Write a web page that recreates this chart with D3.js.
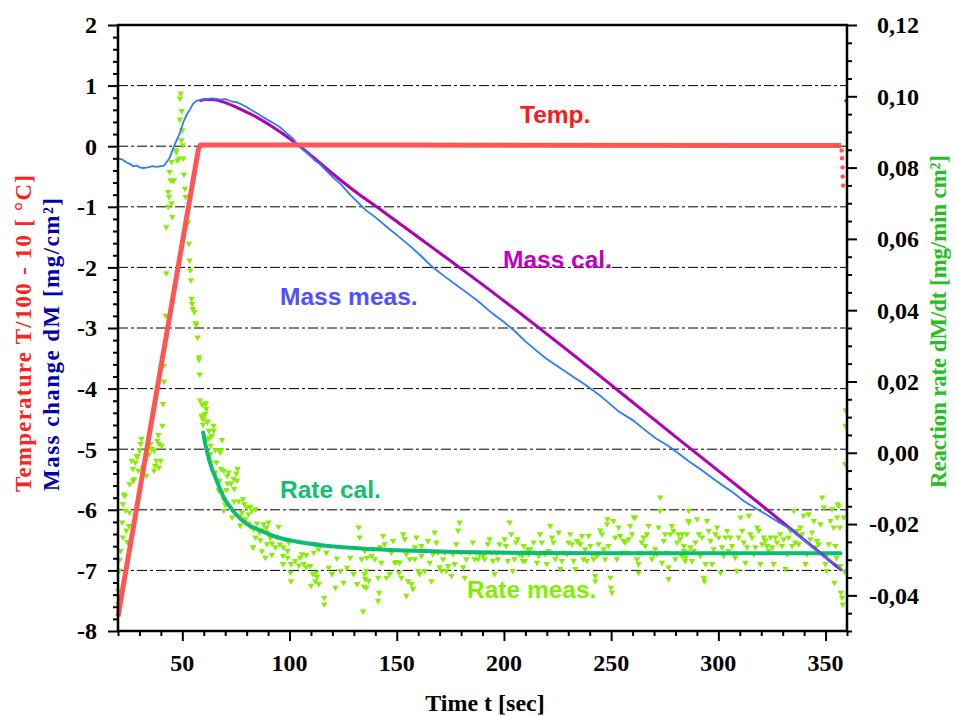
<!DOCTYPE html>
<html><head><meta charset="utf-8">
<script src="https://cdn.jsdelivr.net/npm/d3@7"></script>
<style>
body{margin:0;background:#fff}svg{display:block}
.ax path.domain{display:none}
.ax line{stroke:#000 !important;stroke-width:2px !important}
.lbl{font-family:'Liberation Serif','Times New Roman',serif;font-weight:bold;font-size:24px;fill:#000}
.ttl{font-family:'Liberation Serif','Times New Roman',serif;font-weight:bold;font-size:23px}
.ser{font-family:'Liberation Sans',Arial,sans-serif;font-weight:bold;font-size:24.5px}
</style>
</head><body><svg id="c" width="956" height="716"></svg>
<script>
// ---------- data ----------
const xTicks = [50,100,150,200,250,300,350];
const leftTicks = [2,1,0,-1,-2,-3,-4,-5,-6,-7,-8];
const rightTicks = [0.12,0.10,0.08,0.06,0.04,0.02,0.00,-0.02,-0.04];
const rightTickLabels = ["0,12","0,10","0,08","0,06","0,04","0,02","0,00","-0,02","-0,04"];
const gridValues = [1,0,-1,-2,-3,-4,-5,-6,-7];

// Temperature (T/100 - 10), left axis
const tempData = [[20,-7.76],[57.5,-0.05],[58.5,0.02],[150,0.02],[357.3,0.01]];
const tempDrop = [[357.5,-0.07],[357.7,-0.2],[357.9,-0.35],[358.0,-0.5],[358.2,-0.65]];

// Mass change measured, left axis
const massMeas = [[20,-0.2],[22,-0.22],[24,-0.27],[26,-0.3],[27,-0.33],[29,-0.32],[30,-0.35],[32,-0.36],[34,-0.35],[36,-0.33],[38,-0.34],[40,-0.33],[41.5,-0.32],[42.5,-0.27],[44,-0.2],[45.7,-0.04],[47,0.07],[48.8,0.21],[50.5,0.4],[51.9,0.51],[53.5,0.6],[55,0.7],[56.6,0.75],[58,0.76],[60,0.77],[62,0.78],[64,0.79],[66,0.78],[68,0.77],[70,0.78],[72,0.75],[73.6,0.73],[75,0.73],[77,0.7],[79.8,0.65],[82,0.6],[84,0.56],[86,0.52],[87.6,0.48],[90,0.43],[92,0.39],[95.3,0.32],[97,0.27],[99,0.2],[101.5,0.13],[103,0.06],[104.7,-0.01],[107,-0.08],[110,-0.17],[112,-0.24],[114,-0.29],[117,-0.4],[120.1,-0.51],[124,-0.63],[128,-0.79],[132,-0.93],[135.7,-1.06],[140,-1.17],[145,-1.32],[151.2,-1.5],[156,-1.64],[161,-1.8],[166.5,-1.99],[172,-2.14],[177,-2.27],[182,-2.4],[188.4,-2.57],[195,-2.77],[200,-2.9],[205,-3.05],[210,-3.22],[215,-3.37],[219.5,-3.5],[225,-3.63],[230,-3.75],[238.1,-3.94],[245,-4.12],[253.6,-4.38],[260,-4.52],[265,-4.66],[270.7,-4.82],[276,-4.93],[281,-5.06],[286.2,-5.2],[292,-5.34],[297,-5.47],[301.7,-5.59],[307,-5.72],[312,-5.86],[317.2,-5.97],[322,-6.07],[327,-6.18],[332.7,-6.3],[337,-6.42],[342,-6.56],[348.2,-6.74],[352,-6.84],[355,-6.9],[357.5,-7.0]];

// Mass change calculated, left axis
const massCal = [[58,0.75],[61,0.77],[64,0.77],[70,0.72],[76,0.63],[83,0.51],[92,0.32],[101,0.1],[110,-0.15],[120,-0.45],[130,-0.73],[143,-1.06],[166.5,-1.67],[188,-2.23],[250,-3.94],[282,-4.85],[320,-5.92],[357.5,-7.0]];
const massCalEnd = [[359.4,0.75]];

// Reaction rate calculated, right axis
const rateCal = [[59.7,0.0057],[60.7,0.0025],[61.8,-0.0003],[63.8,-0.0045],[64.9,-0.0061],[66.9,-0.0092],[69.3,-0.0125],[72.4,-0.0153],[75.5,-0.0176],[80.2,-0.02],[86.4,-0.0218],[94.2,-0.0237],[105,-0.0251],[120.6,-0.0263],[137.7,-0.027],[170,-0.0277],[211,-0.0281],[260,-0.0282],[357,-0.0282]];

// Reaction rate measured, right axis
const rateMeas = [[20.1,-0.0387],[20.0,-0.0424],[20.7,-0.033],[20.7,-0.030],[21.2,-0.0275],[22.3,-0.0237],[24.3,-0.025],[23.9,-0.0218],[25.1,-0.0205],[22.0,-0.0195],[23.5,-0.0162],[25.4,-0.0167],[22.3,-0.0144],[22.8,-0.0117],[23.2,-0.0121],[25.4,-0.0088],[27.0,-0.0078],[27.5,-0.0074],[27.0,-0.0045],[26.4,-0.0022],[28.2,-0.0027],[29.0,-0.0011],[28.8,-0.0009],[30.1,0.0006],[30.6,0.0025],[31.0,0.0039],[29.5,-0.005],[31.6,-0.0041],[33.2,-0.0064],[32.9,-0.0022],[34.5,-0.0004],[35.2,0.0025],[35.7,0.0011],[36.8,0.0006],[37.3,-0.0036],[36.8,-0.005],[38.3,0.0034],[39.1,0.0025],[40.3,0.002],[39.9,-0.0022],[39.1,-0.0041],[37.9,-0.0022],[38.8,0.005],[40.7,0.0076],[41.0,0.0137],[41.4,0.02],[41.4,0.0244],
[42.5,0.0633],[42.5,0.0504],[42.2,0.0385],[41.9,0.030],[43.4,0.069],[45.3,0.0662],[45.0,0.070],[43.8,0.0718],[43.4,0.0732],[44.5,0.0765],[45.6,0.0763],[46.1,0.0765],[44.1,0.0788],[45.0,0.0816],[47.2,0.0844],[47.7,0.082],[46.9,0.0849],[48.5,0.0826],[50.5,0.0826],[50.3,0.0863],[49.2,0.1008],[48.9,0.0994],[49.7,0.0959],[48.9,0.0935],[50.0,0.0905],[49.5,0.0877],[50.8,0.0781],[51.2,0.0741],[51.5,0.0718],[52.8,0.0647],[53.1,0.0587],[53.4,0.054],[53.7,0.0512],[54.0,0.0484],[54.3,0.0432],[54.6,0.0418],[54.9,0.0404],[55.6,0.0395],[56.2,0.0364],[56.5,0.036],[57.1,0.0324],[57.8,0.0268],
[57.8,0.0261],[58.1,0.022],[58.3,0.0147],[59.3,0.0135],[60.9,0.0139],[61.2,0.0123],[60.6,0.0109],[59.0,0.0104],[59.6,0.010],[59.7,0.0096],[61.6,0.0089],[62.4,0.0062],[62.7,0.0042],[63.2,0.002],
[60.7,0.0137],[59.9,0.0104],[59.2,0.0099],[59.6,0.0079],[61.8,0.0086],[64.6,0.0076],[64.6,0.0062],[63.8,0.0048],[61.8,0.0039],[65.4,0.0008],[63.1,-0.0003],[68.5,0.0036],[68.1,0.0008],[67.7,0.0001],[63.1,-0.0027],[65.9,-0.0027],[65.4,-0.0055],[68.1,-0.0045],[69.3,-0.005],[70.9,-0.0064],[71.6,-0.0055],[75.8,-0.0045],[75.2,-0.0058],[75.5,-0.0078],[73.9,-0.0073],[72.7,-0.0086],[71.1,-0.0086],[67.4,-0.0078],[66.6,-0.0081],[66.9,-0.0105],[68.5,-0.0111],[70.5,-0.0104],[74.2,-0.0101],[69.3,-0.013],[70.1,-0.0146],[69.3,-0.0162],[73.2,-0.0181],[74.2,-0.0136],[76.3,-0.0136],[78.3,-0.013],[78.9,-0.0144],[80.2,-0.0153],[81.7,-0.0151],[82.5,-0.0162],[84.1,-0.0158],[80.9,-0.0172],[77.8,-0.0167],[79.4,-0.0186],[77.0,-0.0176],[77.0,-0.0204],[80.9,-0.0198],[81.7,-0.0207],[84.8,-0.0198],[87.9,-0.020],[90.2,-0.0195],[89.1,-0.0209],[87.1,-0.0217],[83.2,-0.0214],[86.0,-0.0223],[84.1,-0.0237],[86.4,-0.0245],[89.5,-0.0223],[91.0,-0.0239],[93.8,-0.0235],[94.9,-0.0207],[91.8,-0.0254],[89.5,-0.0256],[83.0,-0.0265],[87.1,-0.0276],[88.7,-0.0294],[91.8,-0.0286],[93.4,-0.0265],[95.5,-0.0257],[97.2,-0.0265],[99.6,-0.0251],[99.1,-0.0275],[97.0,-0.0289],[97.0,-0.0312],[99.1,-0.0294],[100.7,-0.0312],[100.4,-0.0336],[100.7,-0.036],[102.7,-0.0303],[104.3,-0.0316],[105.0,-0.0294],[105.8,-0.0284],[107.8,-0.0287],[106.6,-0.0312],[107.8,-0.0321],[109.7,-0.0317],[111.3,-0.028],[112.0,-0.0256],[113.6,-0.027],[110.9,-0.034],[112.3,-0.0336],[112.0,-0.036],[110.0,-0.0373],[113.6,-0.0368],[112.8,-0.0348],[116.2,-0.0406],[116.2,-0.0425],[117.2,-0.028],[118.3,-0.0322],[119.8,-0.034],[121.4,-0.0378],[122.1,-0.0296],[123.7,-0.0331],[125.2,-0.0364],[126.8,-0.0322],[128.3,-0.0294],[129.9,-0.034],[131.5,-0.0368],[132.2,-0.0209],[132.7,-0.0237],[134.3,-0.0445],[135.0,-0.034],[136.1,-0.0294],[136.9,-0.0359],
[135.3,-0.0354],[135.9,-0.0378],[134.7,-0.0375],[135.8,-0.0331],[133.6,-0.0298],[135.1,-0.0275],[138.2,-0.0289],[139.8,-0.0298],[139.0,-0.027],[142.1,-0.0265],[141.3,-0.035],[141.8,-0.0392],[141.3,-0.0415],[142.8,-0.0308],[143.6,-0.0233],[144.4,-0.0256],[145.2,-0.035],[146.7,-0.034],[148.3,-0.0247],[147.5,-0.028],[149.1,-0.0308],[149.8,-0.0306],[151.4,-0.0308],[151.1,-0.0336],[152.2,-0.035],[153.0,-0.0228],[153.8,-0.0242],[154.5,-0.0284],[155.3,-0.036],[156.1,-0.0298],[156.9,-0.0368],[157.6,-0.0382],[154.5,-0.0401],[158.4,-0.0265],[158.4,-0.0298],[159.2,-0.0237],[160.0,-0.0331],[160.7,-0.034],[161.5,-0.0261],[161.5,-0.0289],[163.1,-0.0331],[164.6,-0.0247],[165.4,-0.0308],[166.2,-0.036],[166.9,-0.0284],[167.7,-0.0223],[168.5,-0.0251],[169.3,-0.028],[170.0,-0.0321],[170.8,-0.0331],[171.6,-0.0298],[172.4,-0.028],[173.1,-0.0331],[173.9,-0.0317],[175.5,-0.0345],[176.2,-0.0284],[177.0,-0.0312],[177.8,-0.0256],[178.6,-0.0218],[179.3,-0.0195],[180.1,-0.028],[180.9,-0.0321],[181.7,-0.035],[182.4,-0.0298],[184.0,-0.028],[185.5,-0.0251],[186.3,-0.0298],[187.1,-0.028],[187.9,-0.0298],[188.6,-0.0284],[190.2,-0.0289],[191.0,-0.0298],[191.7,-0.028],[192.5,-0.0256],[193.3,-0.0242],[194.1,-0.028],[194.8,-0.0303],[195.6,-0.034],[196.4,-0.028],[197.2,-0.0298],[197.9,-0.0256],[199.5,-0.028],[200.3,-0.0242],[201.0,-0.0261],[201.8,-0.0303],[202.6,-0.0195],[203.4,-0.0228],[204.1,-0.0331],[204.9,-0.0298],[205.7,-0.0251],[206.4,-0.0242],[207.2,-0.0284],[208.8,-0.0303],[209.5,-0.028],[211.1,-0.027],
[208.4,-0.0289],[209.2,-0.0261],[209.9,-0.0303],[210.7,-0.028],[211.5,-0.0284],[212.3,-0.027],[213.8,-0.0251],[214.6,-0.028],[215.4,-0.0308],[216.2,-0.0289],[216.9,-0.0228],[217.7,-0.0251],[218.5,-0.028],[219.3,-0.0284],[220.0,-0.0312],[220.8,-0.0275],[221.6,-0.0205],[222.4,-0.0237],[223.1,-0.0251],[223.9,-0.0298],[224.7,-0.0284],[225.5,-0.0223],[226.3,-0.0326],[227.0,-0.0303],[227.8,-0.028],[229.4,-0.0284],[230.1,-0.0251],[230.9,-0.0228],[231.7,-0.0256],[232.5,-0.0303],[233.3,-0.0326],[234.0,-0.0247],[234.8,-0.0251],[235.6,-0.0256],[236.4,-0.0233],[237.1,-0.0298],[237.9,-0.027],[238.7,-0.0303],[239.5,-0.0233],[240.3,-0.0261],[241.0,-0.0284],[241.8,-0.0298],[242.6,-0.0345],[242.6,-0.036],[243.4,-0.0289],[244.1,-0.0256],[244.9,-0.0218],[245.7,-0.0228],[246.5,-0.027],[247.2,-0.0298],[248.0,-0.020],[248.3,-0.0186],[248.8,-0.0261],[249.6,-0.035],[249.9,-0.0378],[250.4,-0.0392],[251.1,-0.0191],[251.9,-0.0237],[252.7,-0.0298],[253.5,-0.0209],[254.2,-0.0233],[255.0,-0.028],[255.8,-0.0247],[256.6,-0.0251],[257.4,-0.028],[258.1,-0.0242],[258.9,-0.0205],[259.7,-0.0228],[260.5,-0.0181],[261.2,-0.0181],[262.0,-0.0298],[262.8,-0.0312],[262.8,-0.0336],[263.6,-0.028],[264.3,-0.0251],[265.1,-0.0237],[265.9,-0.0261],[266.7,-0.0228],[267.5,-0.0205],[268.2,-0.028],[269.0,-0.0298],[269.8,-0.0284],[270.6,-0.027],[271.3,-0.0284],[272.1,-0.0209],[272.9,-0.0125],[272.9,-0.0162],[273.7,-0.0308],[274.5,-0.0247],[275.2,-0.0228],[276.0,-0.028],[276.8,-0.0321],[276.8,-0.0354],[277.6,-0.0228],[278.3,-0.0205],[279.1,-0.0219],[279.9,-0.0298],[280.7,-0.0251],[281.4,-0.0228],[282.2,-0.0242],[283.0,-0.0289],[283.8,-0.0275],[284.6,-0.0303],[285.3,-0.0228],[286.1,-0.0191],
[283.1,-0.0228],[283.9,-0.0261],[284.6,-0.0294],[285.4,-0.0279],[286.2,-0.0162],[286.2,-0.0195],[287.0,-0.0265],[287.7,-0.0303],[288.5,-0.0275],[289.3,-0.0251],[290.1,-0.0186],[290.9,-0.0228],[291.6,-0.0289],[292.4,-0.0237],[293.2,-0.035],[293.5,-0.036],[294.0,-0.0312],[294.7,-0.0191],[295.5,-0.0219],[296.3,-0.0247],[297.1,-0.0312],[297.8,-0.027],[298.6,-0.0228],[299.4,-0.0209],[300.2,-0.0237],[301.0,-0.0336],[301.7,-0.0265],[302.5,-0.0289],[303.3,-0.0237],[304.1,-0.0219],[304.8,-0.0275],[305.6,-0.0237],[306.4,-0.0261],[307.2,-0.0284],[307.9,-0.0294],[308.7,-0.0331],[309.5,-0.0237],[310.3,-0.0181],[311.1,-0.0219],[311.8,-0.0251],[312.6,-0.0308],[313.4,-0.0265],[314.2,-0.0176],[314.9,-0.0228],[315.7,-0.0237],[316.5,-0.0284],[317.3,-0.0265],[318.1,-0.0209],[318.8,-0.0219],[319.6,-0.0312],[320.4,-0.0256],[321.2,-0.0237],[321.9,-0.0247],[322.7,-0.0261],[323.5,-0.0275],[324.3,-0.0237],[325.1,-0.0265],[325.8,-0.0312],[326.6,-0.0237],[327.4,-0.0251],[328.2,-0.0191],[328.9,-0.0228],[329.7,-0.0261],[330.5,-0.0242],[331.3,-0.0326],[332.1,-0.0284],[332.8,-0.0237],[333.6,-0.0219],[334.4,-0.0261],[335.2,-0.0162],[335.9,-0.0251],[336.7,-0.0219],[337.5,-0.0256],[338.3,-0.0209],[339.0,-0.0228],[339.8,-0.0176],[340.6,-0.0312],[341.4,-0.0284],[342.2,-0.0172],[342.9,-0.0242],[343.7,-0.0223],[344.5,-0.0191],[345.3,-0.0265],[346.0,-0.0247],[346.8,-0.0256],[347.6,-0.020],[348.4,-0.0125],[349.2,-0.0153],[349.9,-0.0312],[350.4,-0.0331],[350.7,-0.0284],[351.5,-0.0256],[352.3,-0.0191],[353.0,-0.0158],[353.8,-0.0209],[354.1,-0.0364],[354.6,-0.0261],[355.1,-0.0294],[355.4,-0.0181],[355.7,-0.0144],[356.1,-0.0149],[356.6,-0.0209],[356.9,-0.0317],[357.2,-0.0392],[357.7,-0.0406],[358.0,-0.0425],[358.5,-0.0181],[358.8,-0.0333],[359.1,-0.0031],[359.3,0.0076],[359.4,0.012]];

// ---------- drawing ----------
const svg = d3.select("#c");
svg.append("rect").attr("width",956).attr("height",716).attr("fill","#fff");
const L = 118, R = 847, T = 25, B = 631;
const x = d3.scaleLinear().domain([20,360]).range([L,R]);
const yL = d3.scaleLinear().domain([-8,2]).range([B,T]);
const yR = d3.scaleLinear().domain([-0.05,0.12]).range([B,T]);

// gridlines
svg.append("g").selectAll("line").data(gridValues).join("line")
  .attr("x1",L).attr("x2",R).attr("y1",d=>yL(d)).attr("y2",d=>yL(d))
  .attr("stroke","#000").attr("stroke-width",1).attr("stroke-dasharray","10,3,3,3");

const plot = svg.append("g");
// rate measured (down triangles)
const tri = d3.symbol().type(d3.symbolTriangle).size(18)();
plot.append("g").selectAll("path").data(rateMeas).join("path")
  .attr("d",tri).attr("transform",d=>`translate(${x(d[0])},${yR(d[1])}) rotate(180)`)
  .attr("fill","#84f000");
// rate calculated
plot.append("path").datum(rateCal)
  .attr("d",d3.line().x(d=>x(d[0])).y(d=>yR(d[1])).curve(d3.curveMonotoneX))
  .attr("fill","none").attr("stroke","#0cbc72").attr("stroke-width",4).attr("stroke-linecap","round");
// mass calculated
plot.append("path").datum(massCal)
  .attr("d",d3.line().x(d=>x(d[0])).y(d=>yL(d[1])).curve(d3.curveMonotoneX))
  .attr("fill","none").attr("stroke","#b000b4").attr("stroke-width",3);
plot.append("g").selectAll("circle").data(massCalEnd).join("circle")
  .attr("cx",d=>x(d[0])).attr("cy",d=>yL(d[1])).attr("r",1.5).attr("fill","#b000b4");
// mass measured
plot.append("path").datum(massMeas)
  .attr("d",d3.line().x(d=>x(d[0])).y(d=>yL(d[1])))
  .attr("fill","none").attr("stroke","#2a7bff").attr("stroke-width",1.8);
// temperature
plot.append("path").datum(tempData)
  .attr("d",d3.line().x(d=>x(d[0])).y(d=>yL(d[1])))
  .attr("fill","none").attr("stroke","#ff5555").attr("stroke-width",5).attr("stroke-linejoin","round");
plot.append("g").selectAll("circle").data(tempDrop).join("circle")
  .attr("cx",d=>x(d[0])).attr("cy",d=>yL(d[1])).attr("r",2.2).attr("fill","#ff5555");

// axes (tick marks only; labels drawn below)
const minorL = d3.range(-8,2.001,0.2).filter(v=>Math.abs(v-Math.round(v))>1e-6);
const minorR = d3.range(-0.05,0.1201,0.005).filter(v=>Math.abs(v*50-Math.round(v*50))>1e-6);
const minorX = d3.range(20,361,10).filter(v=>v%50!==0);
function ax(tr, axis){ svg.append("g").attr("class","ax").attr("transform",tr).call(axis); }
ax(`translate(${L},0)`, d3.axisLeft(yL).tickValues(minorL).tickSize(5).tickFormat(""));
ax(`translate(${L},0)`, d3.axisLeft(yL).tickValues(leftTicks).tickSize(10).tickFormat(""));
ax(`translate(${R},0)`, d3.axisRight(yR).tickValues(minorR).tickSize(5).tickFormat(""));
ax(`translate(${R},0)`, d3.axisRight(yR).tickValues(rightTicks).tickSize(10).tickFormat(""));
ax(`translate(0,${B})`, d3.axisBottom(x).tickValues(minorX).tickSize(5).tickFormat(""));
ax(`translate(0,${B})`, d3.axisBottom(x).tickValues(xTicks).tickSize(10).tickFormat(""));

// tick labels
svg.append("g").selectAll("text").data(leftTicks).join("text").attr("class","lbl")
  .attr("x",97).attr("y",d=>yL(d)).attr("dy","0.35em").attr("text-anchor","end").text(d=>String(d));
svg.append("g").selectAll("text").data(rightTicks).join("text").attr("class","lbl")
  .attr("x",919).attr("y",d=>yR(d)).attr("dy","0.35em").attr("text-anchor","end").text((d,i)=>rightTickLabels[i]);
svg.append("g").selectAll("text").data(xTicks).join("text").attr("class","lbl")
  .attr("x",d=>x(d)).attr("y",671).attr("text-anchor","middle").text(d=>String(d));

// frame lines
const fr = svg.append("g").attr("stroke","#000").attr("stroke-width",2.5);
fr.append("line").attr("x1",L).attr("x2",L).attr("y1",T-1).attr("y2",B+1);
fr.append("line").attr("x1",R).attr("x2",R).attr("y1",T-1).attr("y2",B+1);
fr.append("line").attr("x1",L-1).attr("x2",R+1).attr("y1",B).attr("y2",B);
fr.append("line").attr("x1",L-1).attr("x2",R+1).attr("y1",T).attr("y2",T);

// axis titles
svg.append("text").attr("class","lbl").attr("x",485).attr("y",711).attr("text-anchor","middle").text("Time t [sec]");
svg.append("text").attr("class","ttl").attr("transform","translate(31,492) rotate(-90)").attr("fill","#ff2020")
  .attr("textLength",317).attr("lengthAdjust","spacing").text("Temperature T/100 - 10 [ °C]");
svg.append("text").attr("class","ttl").attr("transform","translate(59,491) rotate(-90)").attr("fill","#0000b0")
  .attr("textLength",293).attr("lengthAdjust","spacing").text("Mass change  dM [mg/cm²]");
svg.append("text").attr("class","ttl").attr("transform","translate(946,488) rotate(-90)").attr("fill","#22c022")
  .attr("textLength",333).attr("lengthAdjust","spacing").text("Reaction rate dM/dt [mg/min cm²]");

// series labels
const labels = [
  {t:"Temp.", x:520, y:123, c:"#ff1a1a"},
  {t:"Mass cal.", x:503, y:268, c:"#c000c0"},
  {t:"Mass meas.", x:280, y:305, c:"#5050ff"},
  {t:"Rate cal.", x:280, y:498, c:"#10c070"},
  {t:"Rate meas.", x:467, y:598, c:"#80f000"}
];
svg.append("g").selectAll("text").data(labels).join("text").attr("class","ser")
  .attr("x",d=>d.x).attr("y",d=>d.y).attr("fill",d=>d.c).text(d=>d.t);
</script></body></html>
